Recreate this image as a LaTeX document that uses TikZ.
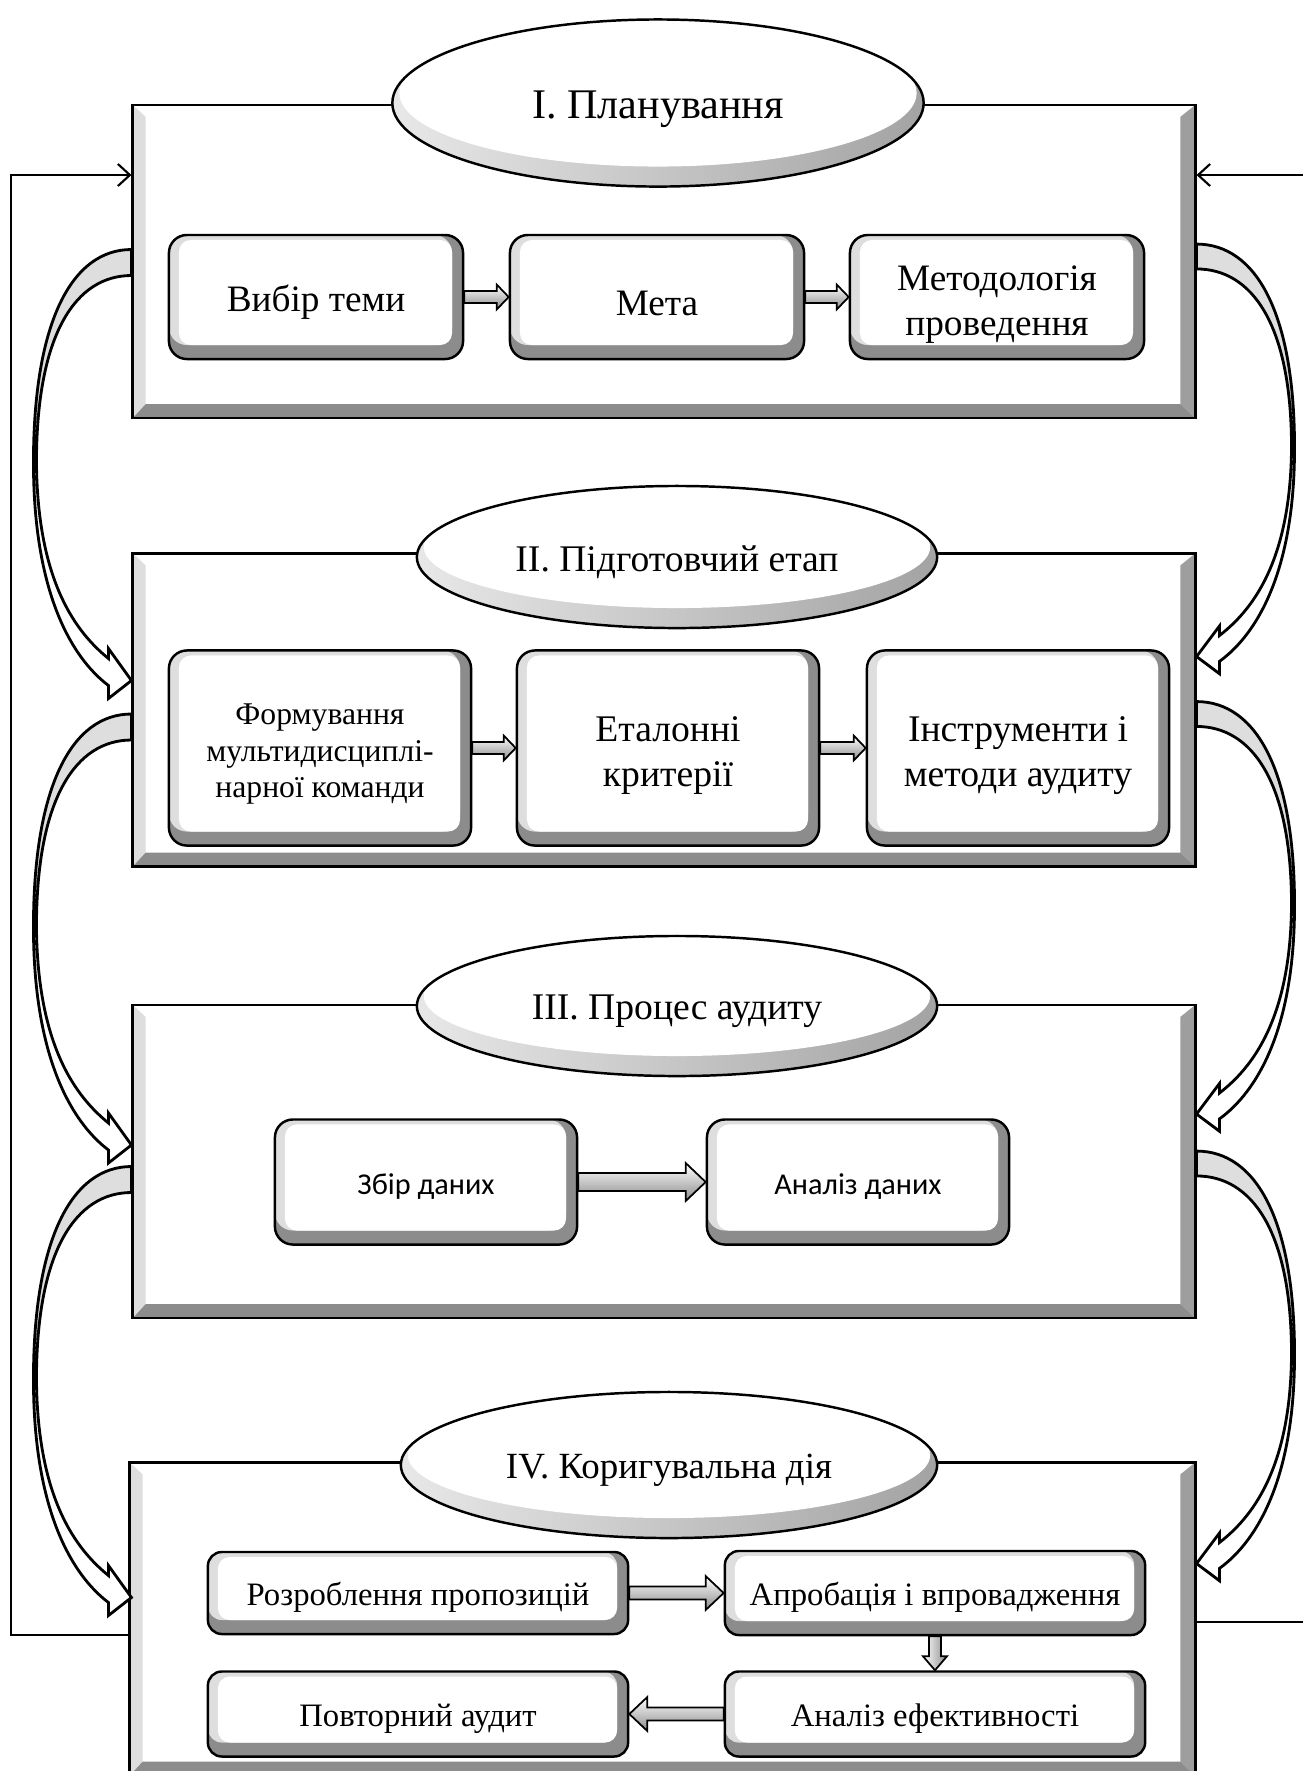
\documentclass[tikz,border=0pt]{standalone}
\usepackage{fontspec}
\setmainfont{Liberation Serif}
\newfontfamily\calibri{Carlito}
\usetikzlibrary{shapes.geometric,arrows.meta,calc}
\definecolor{bevlight}{RGB}{222,222,222}
\definecolor{bevmid}{RGB}{158,158,158}
\definecolor{bevdark}{RGB}{140,140,140}
\def\ppb{path picture bounding box}
\newcommand\topstrut{\rule{0pt}{1.05em}}
\tikzset{
  stageframe/.style={draw, line width=0.7pt, fill=white, inner sep=0pt,
    minimum width=10.62cm, minimum height=3.13cm, path picture={
      \fill[bevlight] (\ppb.north west) -- ++(0.13cm,-0.12cm) -- ([xshift=0.13cm,yshift=0.14cm]\ppb.south west) -- (\ppb.south west) -- cycle;
      \fill[bevmid] (\ppb.north east) -- ++(-0.15cm,-0.12cm) -- ([xshift=-0.15cm,yshift=0.14cm]\ppb.south east) -- (\ppb.south east) -- cycle;
      \fill[bevdark] (\ppb.south west) -- ++(0.13cm,0.14cm) -- ([xshift=-0.15cm,yshift=0.14cm]\ppb.south east) -- (\ppb.south east) -- cycle;}},
  stagetitle/.style={ellipse, draw, line width=0.7pt, inner sep=0pt,
    font=\fontsize{10.7}{12.8}\selectfont, execute at begin node={\rule{0pt}{0.95em}}, path picture={
      \shade[left color=bevlight!70, middle color=bevdark, right color=bevdark!80] (\ppb.south west) rectangle (\ppb.north east);
      \fill[white] let \p1=(\ppb.south west), \p2=(\ppb.north east) in
        ([yshift=0.1cm]\ppb.center) ellipse [x radius={(\x2-\x1)/2-0.07cm}, y radius={(\y2-\y1)/2-0.1cm}];}},
  actbox/.style={draw, line width=0.7pt, rounded corners=0.18cm, align=center, inner sep=2pt,
    execute at begin node={\rule{0pt}{1em}},
    path picture={
      \fill[bevdark] (\ppb.south west) rectangle (\ppb.north east);
      \fill[bevlight] (\ppb.north west) rectangle ([xshift=-0.11cm,yshift=0.14cm]\ppb.south east);
      \fill[white, rounded corners=0.12cm] ([xshift=0.1cm,yshift=-0.05cm]\ppb.north west) rectangle ([xshift=-0.11cm,yshift=0.14cm]\ppb.south east);}},
  rowone/.style={actbox, minimum width=2.94cm, minimum height=1.24cm, font=\fontsize{10.6}{12.8}\selectfont},
  rowtwo/.style={actbox, minimum width=3.02cm, minimum height=1.95cm, font=\fontsize{10.7}{12.8}\selectfont},
  rowthree/.style={actbox, minimum width=3.02cm, minimum height=1.25cm, font=\calibri\fontsize{8.6}{10}\selectfont},
  rowfour/.style={actbox, rounded corners=0.14cm, minimum width=4.2cm, minimum height=0.82cm, font=\fontsize{9.3}{11}\selectfont},
  blk/.style={draw, line width=0.5pt, top color=white, bottom color=bevdark},
  blkv/.style={draw, line width=0.5pt, left color=white, right color=bevdark},
  fb/.style={line width=0.6pt, -{Straight Barb[length=0.12cm, width=0.22cm]}},
  fbline/.style={line width=0.6pt}
}
\newcommand\blkh[5]{\path[blk] ([yshift=#3]#1) -- ([xshift={-(#5)},yshift=#3]#2) -- ([xshift={-(#5)},yshift=#4]#2) -- (#2)
  -- ([xshift={-(#5)},yshift=-#4]#2) -- ([xshift={-(#5)},yshift=-#3]#2) -- ([yshift=-#3]#1) -- cycle;}
\newcommand\blkvert[5]{\path[blkv] ([xshift=-#3]#1) -- ([xshift=-#3,yshift=#5]#2) -- ([xshift=-#4,yshift=#5]#2) -- (#2)
  -- ([xshift=#4,yshift=#5]#2) -- ([xshift=#3,yshift=#5]#2) -- ([xshift=#3]#1) -- cycle;}
\newcommand\ribbonpath{(0,-13) .. controls (-60,-13) and (-98,60) .. (-98,200) .. controls (-98,330) and (-60,395) .. (-23,423)
  -- (-23,436) -- (0,418) -- (-23,386) -- (-23,396) .. controls (-55,370) and (-94,320) .. (-95,200)
  .. controls (-95,70) and (-55,13) .. (0,13) -- cycle}
\newcommand\ribbon[2]{\begin{scope}[shift={(#1)}, #2]
    \fill[white] \ribbonpath;
    \begin{scope}
      \clip (-130,-40) rectangle (10,190);
      \fill[bevlight] \ribbonpath;
    \end{scope}
    \draw[line width=0.8pt] \ribbonpath;
  \end{scope}}

\begin{document}
\begin{tikzpicture}[x=0.01cm, y=-0.01cm]
  \useasboundingbox (0,0) rectangle (1303,1771);

  \node[stageframe] (f1) at (664,261.5) {};
  \node[stageframe] (f2) at (664,710) {};
  \node[stageframe] (f3) at (664,1161.5) {};
  \node[stageframe, minimum width=10.65cm] (f4) at (662.5,1619) {};

  \node[stagetitle, minimum width=5.31cm, minimum height=1.67cm, font=\fontsize{12}{14}\selectfont] (t1) at (658,103) {І. Планування};
  \node[stagetitle, minimum width=5.2cm, minimum height=1.42cm] (t2) at (677,557) {ІІ. Підготовчий етап};
  \node[stagetitle, minimum width=5.2cm, minimum height=1.40cm] (t3) at (677,1006) {ІІІ. Процес аудиту};
  \node[stagetitle, minimum width=5.36cm, minimum height=1.46cm, font=\fontsize{10.5}{12.6}\selectfont] (t4) at (669,1465) {IV. Коригувальна дія};

  \node[rowone] (vt) at (316,297) {Вибір теми};
  \node[rowone] (meta) at (657,297) {Мета};
  \node[rowone] (met) at (997,297) {\topstrut Методологія\\проведення};

  \node[rowtwo, font=\fontsize{9}{10.4}\selectfont] (form) at (320,748) {\topstrut Формування\\мультидисциплі-\\нарної команди};
  \node[rowtwo] (etal) at (668,748) {\topstrut Еталонні\\критерії};
  \node[rowtwo] (instr) at (1018,748) {\topstrut Інструменти і\\методи аудиту};

  \node[rowthree] (zbir) at (426,1182) {Збір даних};
  \node[rowthree] (anal) at (858,1182) {Аналіз даних};

  \node[rowfour] (rozr) at (418,1593) {Розроблення пропозицій};
  \node[rowfour, minimum height=0.84cm] (aprob) at (935,1593) {Апробація і впровадження};
  \node[rowfour, minimum height=0.85cm] (anef) at (935,1714) {Аналіз ефективності};
  \node[rowfour, minimum height=0.85cm] (povt) at (418,1714) {Повторний аудит};

  \blkh{vt.east}{meta.west}{0.06cm}{0.125cm}{0.12cm}
  \blkh{meta.east}{met.west}{0.06cm}{0.125cm}{0.12cm}
  \blkh{form.east}{etal.west}{0.06cm}{0.125cm}{0.12cm}
  \blkh{etal.east}{instr.west}{0.06cm}{0.125cm}{0.12cm}
  \blkh{zbir.east}{anal.west}{0.09cm}{0.19cm}{0.2cm}
  \blkh{rozr.east}{aprob.west}{0.065cm}{0.17cm}{0.18cm}
  \blkvert{aprob.south}{anef.north}{0.06cm}{0.12cm}{0.14cm}
  \blkh{anef.west}{povt.east}{0.065cm}{0.17cm}{-0.18cm}

  \ribbon{$(f1.west)+(0,1)$}{}
  \ribbon{$(f2.west)+(0,17)$}{}
  \ribbon{$(f3.west)+(0,18)$}{}
  \ribbon{$(f1.east)+(0,-5)$}{xscale=-1, yscale=0.957}
  \ribbon{$(f2.east)+(0,4)$}{xscale=-1, yscale=0.957}
  \ribbon{$(f3.east)+(0,2)$}{xscale=-1, yscale=0.957}

  \coordinate (lb) at (11,1635);
  \coordinate (lt) at (11,175);
  \coordinate (rt) at (1310,175);
  \coordinate (rb) at (1310,1622);
  \draw[fb] ($(f4.west)+(0,16)$) -- (lb) -- (lt) -- ($(f1.west)+(0,-86.5)$);
  \draw[fb] (rt) -- ($(f1.east)+(0,-86.5)$);
  \draw[fbline] ($(f4.east)+(0,3)$) -- (rb);
\end{tikzpicture}
\end{document}
